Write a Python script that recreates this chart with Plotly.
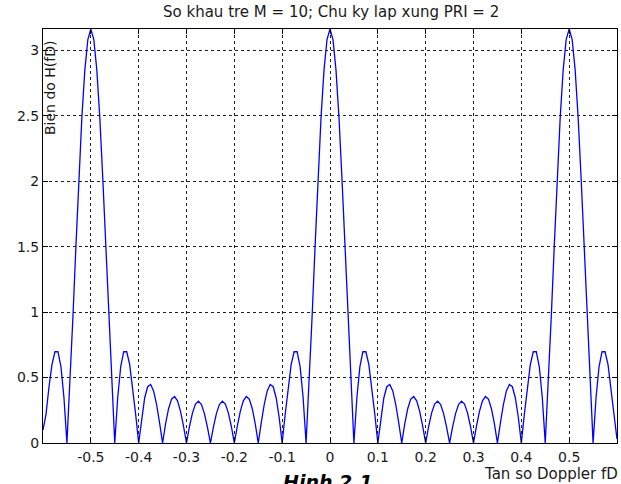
import plotly.graph_objects as go

# Doppler frequency samples (fD)
fd = [
    -0.6, -0.59375, -0.5875, -0.58125, -0.575, -0.56875, -0.5625, -0.55625,
    -0.55, -0.54375, -0.5375, -0.53125, -0.525, -0.51875, -0.5125, -0.50625,
    -0.5, -0.49375, -0.4875, -0.48125, -0.475, -0.46875, -0.4625, -0.45625,
    -0.45, -0.44375, -0.4375, -0.43125, -0.425, -0.41875, -0.4125, -0.40625,
    -0.4, -0.39375, -0.3875, -0.38125, -0.375, -0.36875, -0.3625, -0.35625,
    -0.35, -0.34375, -0.3375, -0.33125, -0.325, -0.31875, -0.3125, -0.30625,
    -0.3, -0.29375, -0.2875, -0.28125, -0.275, -0.26875, -0.2625, -0.25625,
    -0.25, -0.24375, -0.2375, -0.23125, -0.225, -0.21875, -0.2125, -0.20625,
    -0.2, -0.19375, -0.1875, -0.18125, -0.175, -0.16875, -0.1625, -0.15625,
    -0.15, -0.14375, -0.1375, -0.13125, -0.125, -0.11875, -0.1125, -0.10625,
    -0.1, -0.09375, -0.0875, -0.08125, -0.075, -0.06875, -0.0625, -0.05625,
    -0.05, -0.04375, -0.0375, -0.03125, -0.025, -0.01875, -0.0125, -0.00625,
    0.0,
    0.00625, 0.0125, 0.01875, 0.025, 0.03125, 0.0375, 0.04375, 0.05,
    0.05625, 0.0625, 0.06875, 0.075, 0.08125, 0.0875, 0.09375, 0.1,
    0.10625, 0.1125, 0.11875, 0.125, 0.13125, 0.1375, 0.14375, 0.15,
    0.15625, 0.1625, 0.16875, 0.175, 0.18125, 0.1875, 0.19375, 0.2,
    0.20625, 0.2125, 0.21875, 0.225, 0.23125, 0.2375, 0.24375, 0.25,
    0.25625, 0.2625, 0.26875, 0.275, 0.28125, 0.2875, 0.29375, 0.3,
    0.30625, 0.3125, 0.31875, 0.325, 0.33125, 0.3375, 0.34375, 0.35,
    0.35625, 0.3625, 0.36875, 0.375, 0.38125, 0.3875, 0.39375, 0.4,
    0.40625, 0.4125, 0.41875, 0.425, 0.43125, 0.4375, 0.44375, 0.45,
    0.45625, 0.4625, 0.46875, 0.475, 0.48125, 0.4875, 0.49375, 0.5,
    0.50625, 0.5125, 0.51875, 0.525, 0.53125, 0.5375, 0.54375, 0.55,
    0.55625, 0.5625, 0.56875, 0.575, 0.58125, 0.5875, 0.59375, 0.6,
]

# Amplitude H(fD)
h = [
    0.10, 0.218, 0.428, 0.598, 0.697, 0.698, 0.584, 0.350,
    0.0, 0.446, 0.958, 1.498, 2.021, 2.486, 2.850, 3.082,
    3.162, 3.082, 2.850, 2.486, 2.021, 1.498, 0.958, 0.446,
    0.0, 0.350, 0.584, 0.698, 0.697, 0.598, 0.428, 0.218,
    0.0, 0.195, 0.344, 0.430, 0.447, 0.398, 0.294, 0.154,
    0.0, 0.146, 0.262, 0.335, 0.355, 0.322, 0.242, 0.129,
    0.0, 0.126, 0.230, 0.298, 0.320, 0.294, 0.224, 0.121,
    0.0, 0.121, 0.224, 0.294, 0.320, 0.298, 0.230, 0.126,
    0.0, 0.129, 0.242, 0.322, 0.355, 0.335, 0.262, 0.146,
    0.0, 0.154, 0.294, 0.398, 0.447, 0.430, 0.344, 0.195,
    0.0, 0.218, 0.428, 0.598, 0.697, 0.698, 0.584, 0.350,
    0.0, 0.446, 0.958, 1.498, 2.021, 2.486, 2.850, 3.082,
    3.162,
    3.082, 2.850, 2.486, 2.021, 1.498, 0.958, 0.446, 0.0,
    0.350, 0.584, 0.698, 0.697, 0.598, 0.428, 0.218, 0.0,
    0.195, 0.344, 0.430, 0.447, 0.398, 0.294, 0.154, 0.0,
    0.146, 0.262, 0.335, 0.355, 0.322, 0.242, 0.129, 0.0,
    0.126, 0.230, 0.298, 0.320, 0.294, 0.224, 0.121, 0.0,
    0.121, 0.224, 0.294, 0.320, 0.298, 0.230, 0.126, 0.0,
    0.129, 0.242, 0.322, 0.355, 0.335, 0.262, 0.146, 0.0,
    0.154, 0.294, 0.398, 0.447, 0.430, 0.344, 0.195, 0.0,
    0.218, 0.428, 0.598, 0.697, 0.698, 0.584, 0.350, 0.0,
    0.446, 0.958, 1.498, 2.021, 2.486, 2.850, 3.082, 3.162,
    3.082, 2.850, 2.486, 2.021, 1.498, 0.958, 0.446, 0.0,
    0.350, 0.584, 0.698, 0.697, 0.598, 0.428, 0.218, 0.03,
]

x_tick_vals = [-0.5, -0.4, -0.3, -0.2, -0.1, 0.0, 0.1, 0.2, 0.3, 0.4, 0.5]
x_tick_text = ["-0.5", "-0.4", "-0.3", "-0.2", "-0.1", "0", "0.1", "0.2", "0.3", "0.4", "0.5"]
y_tick_vals = [0, 0.5, 1, 1.5, 2, 2.5, 3]
y_tick_text = ["0", "0.5", "1", "1.5", "2", "2.5", "3"]

title_text = "So khau tre M = 10; Chu ky lap xung PRI = 2"
x_label = "Tan so Doppler fD"
y_label = "Bien do H(fD)"
caption = "Hinh 2.1"

FONT = "DejaVu Sans, Arial, sans-serif"
TXT = "#1a1a1a"

fig = go.Figure()
fig.add_trace(go.Scatter(x=fd, y=h, mode="lines",
                         line=dict(color="#0000ff", width=1.3),
                         showlegend=False, hoverinfo="skip"))

axis_common = dict(
    showline=True, linecolor="black", linewidth=1, mirror="ticks",
    ticks="inside", ticklen=5, tickcolor="black", tickwidth=1,
    showgrid=True, gridcolor="#222222", gridwidth=1, griddash="3px,3px",
    zeroline=False,
    tickfont=dict(family=FONT, size=14, color=TXT),
)

fig.update_xaxes(range=[-0.6, 0.6], tickvals=x_tick_vals, ticktext=x_tick_text,
                 ticklabelstandoff=1, **axis_common)
fig.update_yaxes(range=[0, 3.1623], tickvals=y_tick_vals, ticktext=y_tick_text,
                 **axis_common)

W, H = 621, 484
L, R, T, B = 43, 4, 29, 41
pw, ph = W - L - R, H - T - B

def px(xs):
    return (xs - L) / pw

def py(ys):
    return (H - B - ys) / ph

annotations = [
    dict(text=title_text, x=px(331), y=py(12), xref="paper", yref="paper",
         xanchor="center", yanchor="middle", showarrow=False,
         font=dict(family=FONT, size=15, color=TXT)),
    dict(text=x_label, x=px(620), y=py(474), xref="paper", yref="paper",
         xanchor="right", yanchor="middle", showarrow=False,
         font=dict(family=FONT, size=15, color=TXT)),
    dict(text=y_label, x=px(50), y=py(88), xref="paper", yref="paper",
         xanchor="center", yanchor="middle", showarrow=False, textangle=-90,
         font=dict(family=FONT, size=14, color=TXT)),
    dict(text="<b><i>" + caption + "</i></b>", x=px(328), y=py(469), xref="paper", yref="paper",
         xanchor="center", yanchor="top", showarrow=False,
         font=dict(family=FONT, size=19, color="black")),
]

fig.update_layout(
    width=W, height=H,
    margin=dict(l=L, r=R, t=T, b=B, pad=0),
    paper_bgcolor="white", plot_bgcolor="white",
    annotations=annotations,
)

fig.write_html("out.html",
               config={"displayModeBar": False},
               post_script="document.body.style.margin='0';document.body.style.overflow='hidden';")
